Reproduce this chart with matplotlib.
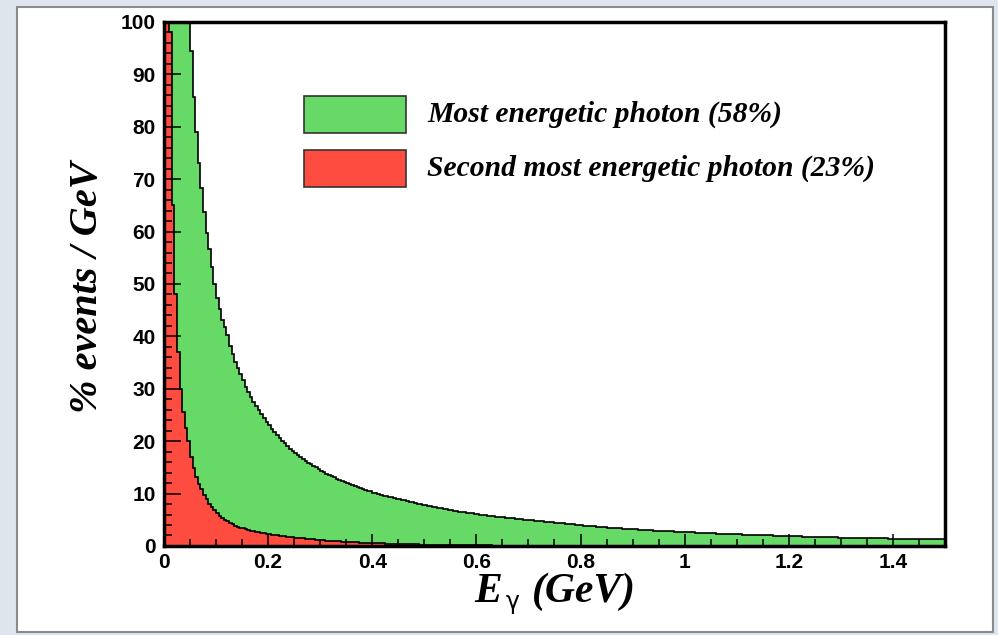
import matplotlib.pyplot as plt
import numpy as np
from matplotlib.patches import Rectangle
from matplotlib.ticker import MultipleLocator

# histogram contents, % events / GeV, bins of 0.005 GeV from 0 to 1.5 GeV
bin_width = 0.005
green = [
    420, 340, 280, 235, 200, 172, 150, 132, 117, 104,
    94.5, 85.6, 79.0, 73.0, 68.3, 63.7, 59.8, 56.6, 53.3, 50.0,
    47.4, 45.3, 43.2, 41.7, 40.2, 38.2, 36.6, 35.2, 34.0, 32.8,
    31.6, 30.4, 29.4, 28.4, 27.5, 26.7, 25.9, 25.1, 24.4, 23.7,
    23.0, 22.3, 21.7, 21.1, 20.6, 20.1, 19.6, 19.1, 18.6, 18.2,
    17.8, 17.4, 17.0, 16.6, 16.3, 15.9, 15.6, 15.3, 15.0, 14.7,
    14.4, 14.1, 13.8, 13.6, 13.3, 13.1, 12.8, 12.6, 12.4, 12.2,
    12.0, 11.8, 11.6, 11.4, 11.2, 11.0, 10.9, 10.7, 10.5, 10.4,
    10.2, 10.1, 9.9, 9.8, 9.6, 9.5, 9.4, 9.3, 9.1, 9.0,
    8.9, 8.8, 8.7, 8.5, 8.4, 8.3, 8.2, 8.1, 8.0, 7.9,
    7.8, 7.7, 7.6, 7.5, 7.4, 7.3, 7.2, 7.1, 7.0, 6.9,
    6.8, 6.7, 6.65, 6.55, 6.5, 6.4, 6.35, 6.25, 6.2, 6.1,
    6.05, 6.0, 5.9, 5.85, 5.8, 5.7, 5.65, 5.6, 5.55, 5.5,
    5.45, 5.4, 5.35, 5.3, 5.25, 5.2, 5.15, 5.1, 5.05, 5.0,
    4.95, 4.9, 4.85, 4.8, 4.75, 4.7, 4.65, 4.6, 4.55, 4.5,
    4.45, 4.4, 4.35, 4.3, 4.25, 4.2, 4.15, 4.1, 4.05, 4.0,
    3.95, 3.9, 3.86, 3.82, 3.78, 3.73, 3.68, 3.64, 3.6, 3.56,
    3.52, 3.48, 3.45, 3.42, 3.38, 3.35, 3.31, 3.28, 3.25, 3.22,
    3.19, 3.16, 3.13, 3.1, 3.07, 3.04, 3.01, 2.98, 2.95, 2.92,
    2.9, 2.87, 2.85, 2.82, 2.8, 2.77, 2.75, 2.72, 2.7, 2.67,
    2.65, 2.63, 2.6, 2.58, 2.56, 2.53, 2.51, 2.49, 2.46, 2.44,
    2.42, 2.4, 2.38, 2.36, 2.34, 2.32, 2.3, 2.28, 2.26, 2.24,
    2.22, 2.2, 2.18, 2.17, 2.15, 2.13, 2.12, 2.1, 2.08, 2.07,
    2.05, 2.03, 2.02, 2.0, 1.98, 1.97, 1.95, 1.93, 1.92, 1.9,
    1.88, 1.86, 1.85, 1.83, 1.82, 1.8, 1.79, 1.77, 1.76, 1.74,
    1.73, 1.72, 1.7, 1.69, 1.68, 1.66, 1.65, 1.64, 1.62, 1.61,
    1.6, 1.59, 1.58, 1.57, 1.56, 1.55, 1.54, 1.53, 1.52, 1.51,
    1.5, 1.49, 1.48, 1.47, 1.46, 1.45, 1.44, 1.43, 1.42, 1.41,
    1.4, 1.39, 1.39, 1.38, 1.37, 1.36, 1.36, 1.35, 1.34, 1.33,
    1.33, 1.32, 1.32, 1.31, 1.3, 1.3, 1.29, 1.29, 1.28, 1.27,
]
red = [
    260, 135, 98, 65, 48, 37, 30, 25.5, 22.5, 20.0,
    17.0, 14.8, 13.2, 11.9, 10.8, 9.8, 8.9, 8.1, 7.4, 6.8,
    6.3, 5.8, 5.4, 5.0, 4.7, 4.4, 4.15, 3.9, 3.7, 3.5,
    3.35, 3.2, 3.05, 2.92, 2.8, 2.7, 2.6, 2.5, 2.42, 2.34,
    2.26, 2.18, 2.1, 2.03, 1.96, 1.9, 1.84, 1.78, 1.72, 1.66,
    1.6, 1.55, 1.5, 1.45, 1.4, 1.35, 1.3, 1.25, 1.2, 1.16,
    1.12, 1.08, 1.04, 1.0, 0.97, 0.94, 0.91, 0.88, 0.85, 0.82,
    0.79, 0.76, 0.73, 0.7, 0.68, 0.66, 0.64, 0.62, 0.6, 0.58,
    0.56, 0.54, 0.52, 0.5, 0.48, 0.46, 0.44, 0.43, 0.41, 0.4,
    0.38, 0.37, 0.35, 0.34, 0.33, 0.31, 0.3, 0.29, 0.28, 0.27,
    0.26, 0.25, 0.24, 0.23, 0.22, 0.21, 0.2, 0.2, 0.19, 0.18,
    0.17, 0.17, 0.16, 0.15, 0.15, 0.14, 0.14, 0.13, 0.13, 0.12,
    0.12, 0.11, 0.11, 0.1, 0.1, 0.1, 0.09, 0.09, 0.09, 0.08,
    0.08, 0.08, 0.07, 0.07, 0.07, 0.07, 0.06, 0.06, 0.06, 0.06,
    0.05, 0.05, 0.05, 0.05, 0.05, 0.05, 0.04, 0.04, 0.04, 0.04,
    0.04, 0.04, 0.04, 0.04, 0.04, 0.03, 0.03, 0.03, 0.03, 0.03,
    0.03, 0.03, 0.03, 0.03, 0.03, 0.03, 0.03, 0.03, 0.03, 0.03,
    0.03, 0.03, 0.03, 0.03, 0.02, 0.02, 0.02, 0.02, 0.02, 0.02,
    0.02, 0.02, 0.02, 0.02, 0.02, 0.02, 0.02, 0.02, 0.02, 0.02,
    0.02, 0.02, 0.02, 0.02, 0.02, 0.02, 0.02, 0.02, 0.02, 0.02,
    0.02, 0.02, 0.01, 0.01, 0.01, 0.01, 0.01, 0.01, 0.01, 0.01,
    0.01, 0.01, 0.01, 0.01, 0.01, 0.01, 0.01, 0.01, 0.01, 0.01,
    0.01, 0.01, 0.01, 0.01, 0.01, 0.01, 0.01, 0.01, 0.01, 0.01,
    0.01, 0.01, 0.01, 0.01, 0.01, 0.01, 0.01, 0.01, 0.01, 0.01,
    0.01, 0.01, 0.01, 0.01, 0.01, 0.01, 0.01, 0.01, 0.01, 0.01,
    0.01, 0.01, 0.01, 0.01, 0.01, 0.01, 0.01, 0.01, 0.01, 0.01,
    0.01, 0.01, 0.01, 0.01, 0.01, 0.01, 0.01, 0.01, 0.01, 0.01,
    0.01, 0.01, 0.01, 0.01, 0.01, 0.01, 0.01, 0.01, 0.01, 0.01,
    0.01, 0.01, 0.01, 0.01, 0.01, 0.01, 0.01, 0.01, 0.01, 0.01,
    0.01, 0.01, 0.01, 0.01, 0.01, 0.01, 0.01, 0.01, 0.01, 0.01,
]
labels = ['Most energetic photon (58%)', 'Second most energetic photon (23%)']
xticks = [0, 0.2, 0.4, 0.6, 0.8, 1.0, 1.2, 1.4]
xticklabels = ['0', '0.2', '0.4', '0.6', '0.8', '1', '1.2', '1.4']

green_col = '#66d966'
red_col = '#ff4c40'
serif = 'Liberation Serif'

edges = np.arange(len(green) + 1) * bin_width

fig = plt.figure(figsize=(9.98, 6.35), dpi=100)
fig.patch.set_facecolor('#dfe5ed')
fig.add_artist(Rectangle((0.017, 0.004), 0.978, 0.985, transform=fig.transFigure,
                         facecolor='white', edgecolor='#8a8a8a', lw=1.5, zorder=-5))

ax = fig.add_axes([0.1643, 0.1402, 0.7826, 0.8252])
ax.stairs(green, edges, fill=True, color=green_col)
ax.stairs(green, edges, color='black', lw=1.2)
ax.stairs(red, edges, fill=True, color=red_col)
ax.stairs(red, edges, color='black', lw=1.2)

ax.set_xlim(0, 1.5)
ax.set_ylim(0, 100)
ax.set_xticks(xticks)
ax.set_xticklabels(xticklabels)
ax.set_yticks(np.arange(0, 101, 10))
ax.xaxis.set_minor_locator(MultipleLocator(0.05))
ax.yaxis.set_minor_locator(MultipleLocator(2))
ax.tick_params(axis='both', which='both', direction='in', top=False, right=False,
               width=1.1, labelsize=15)
ax.tick_params(axis='y', which='major', length=12, pad=6)
ax.tick_params(axis='y', which='minor', length=6)
ax.tick_params(axis='x', which='major', length=9, pad=5)
ax.tick_params(axis='x', which='minor', length=5)
for lab in ax.get_xticklabels() + ax.get_yticklabels():
    lab.set_fontfamily('Liberation Sans')
    lab.set_fontweight('bold')
for sp in ax.spines.values():
    sp.set_linewidth(2.5)
    sp.set_zorder(5)

# legend boxes
for i, (col, lab) in enumerate(zip([green_col, red_col], labels)):
    y0 = 1 - (133 + 54 * i - 22) / 524
    ax.add_patch(Rectangle((0.179, y0), 0.131, 0.071, transform=ax.transAxes,
                           facecolor=col, edgecolor='#333333', lw=1.2, zorder=6))
    ax.text(0.337, y0 + 0.035, lab, transform=ax.transAxes, ha='left', va='center',
            fontfamily=serif, fontweight='bold', fontstyle='italic', fontsize=21.3)

fig.text(88 / 998, 1 - 287 / 635, '% events / GeV', rotation=90, ha='center', va='center',
         fontfamily=serif, fontweight='bold', fontstyle='italic', fontsize=29)
fig.text(474 / 998, 1 - 602 / 635, 'E', ha='left', va='baseline',
         fontfamily=serif, fontweight='bold', fontstyle='italic', fontsize=30)
fig.text(506 / 998, 1 - 609 / 635, 'γ', ha='left', va='baseline',
         fontfamily='DejaVu Sans', fontsize=17)
fig.text(532 / 998, 1 - 602 / 635, '(GeV)', ha='left', va='baseline',
         fontfamily=serif, fontweight='bold', fontstyle='italic', fontsize=30)

fig.savefig('out.png', dpi=100, facecolor=fig.get_facecolor())
